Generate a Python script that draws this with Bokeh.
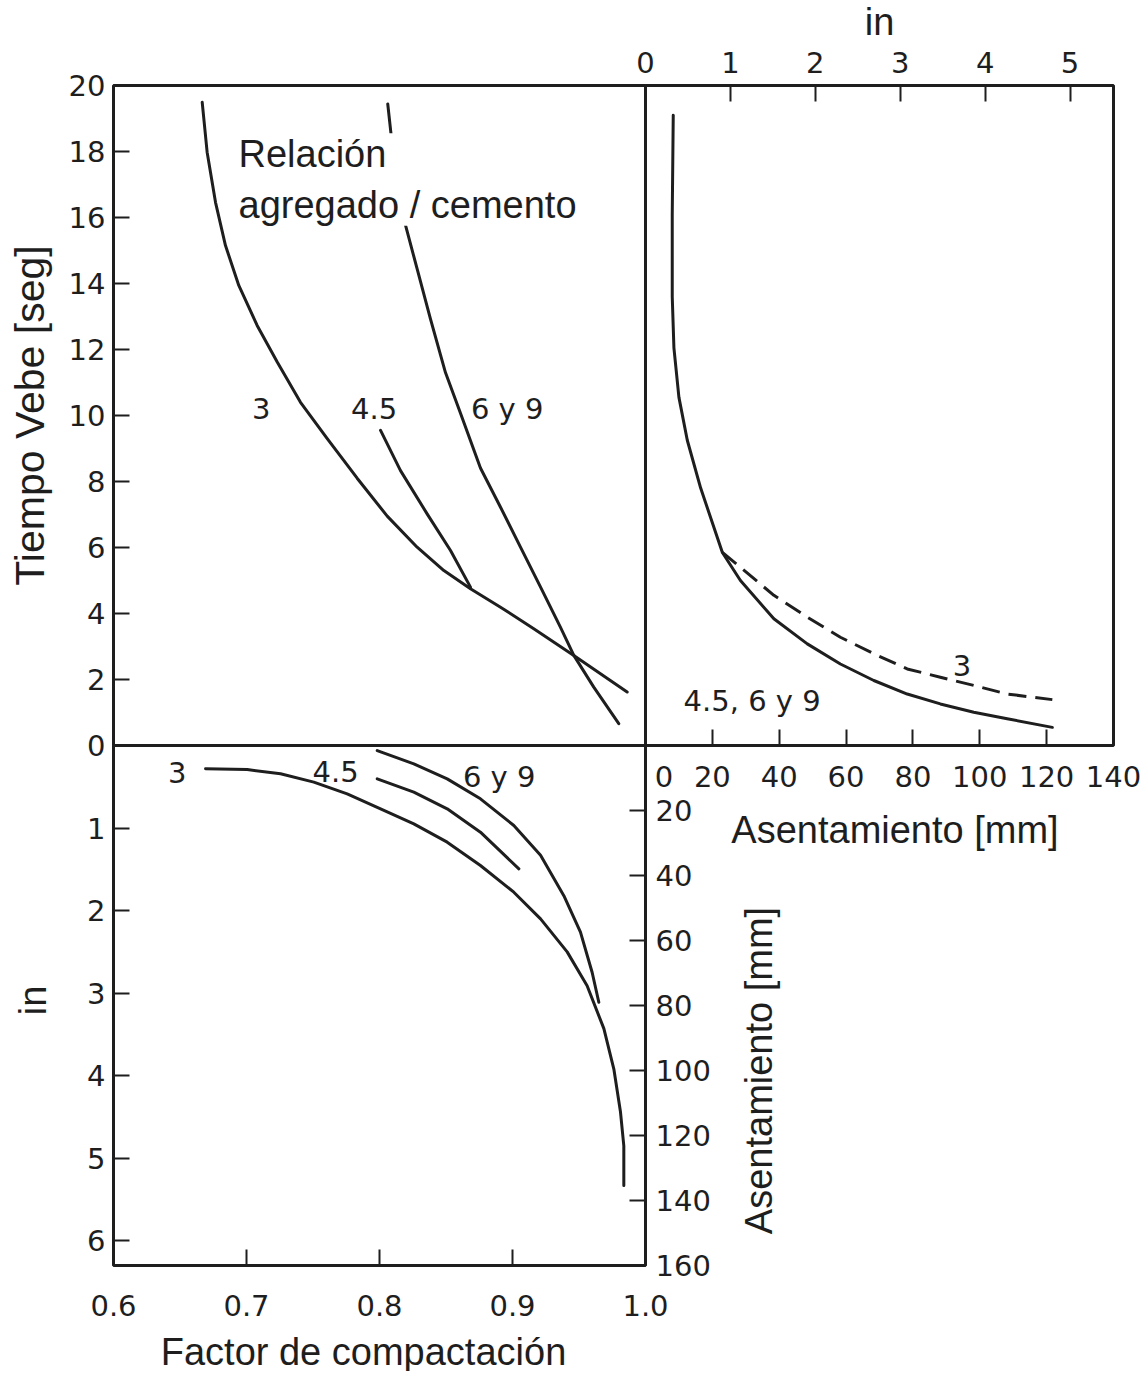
import math
from bokeh.plotting import figure
from bokeh.models import (Range1d, LinearAxis, FixedTicker, BoxAnnotation, Label,
                          ColumnDataSource, PrintfTickFormatter)
from bokeh.core.properties import value
from bokeh.embed import file_html
from bokeh.resources import INLINE

# ---------------- data ----------------
# Top-left panel: Vebe time [s] vs compacting factor, per aggregate/cement ratio
tl_cf_3 = [0.6667, 0.6704, 0.6767, 0.6842, 0.6942, 0.7080, 0.7231, 0.7406, 0.7607, 0.7832,
           0.8058, 0.8283, 0.8484, 0.8684, 0.8910, 0.9160, 0.9461, 0.9862]
tl_vebe_3 = [19.49, 17.98, 16.46, 15.15, 13.94, 12.73, 11.62, 10.40, 9.30, 8.10,
             6.95, 6.01, 5.30, 4.75, 4.19, 3.54, 2.73, 1.62]
tl_cf_45 = [0.8008, 0.8158, 0.8358, 0.8534, 0.8684]
tl_vebe_45 = [9.55, 8.33, 7.02, 5.91, 4.80]
tl_cf_69 = [0.8062, 0.8088, 0.8183, 0.8283, 0.8383, 0.8496, 0.8609, 0.8759, 0.8910, 0.9060,
            0.9211, 0.9361, 0.9461, 0.9611, 0.9799]
tl_vebe_69 = [19.44, 18.48, 15.96, 14.44, 12.93, 11.30, 10.07, 8.41, 7.22, 6.01,
              4.80, 3.58, 2.73, 1.77, 0.66]

# Top-right panel: Vebe time [s] vs slump [mm]
tr_mm_solid = [8.3, 8.0, 8.0, 8.5, 10.0, 12.5, 16.5, 23.0, 28.4, 38.4, 48.4, 58.3, 68.3,
               78.3, 88.2, 98.2, 108.2, 121.7]
tr_vebe_solid = [19.1, 16.1, 13.6, 12.05, 10.55, 9.25, 7.8, 5.85, 5.0, 3.84, 3.08, 2.47, 1.97,
                 1.56, 1.26, 1.01, 0.81, 0.55]
tr_mm_dash = [23.0, 28.4, 38.4, 48.4, 58.3, 68.3, 78.3, 88.2, 98.2, 108.2, 121.7]
tr_vebe_dash = [5.85, 5.40, 4.55, 3.89, 3.28, 2.78, 2.32, 2.07, 1.82, 1.56, 1.39]

# Bottom-left panel: slump [in] vs compacting factor
bl_cf_3 = [0.6692, 0.7005, 0.7256, 0.7506, 0.7757, 0.8008, 0.8258, 0.8509, 0.8759, 0.9010,
           0.9211, 0.9411, 0.9561, 0.9687, 0.9762, 0.9812, 0.9837, 0.9837]
bl_in_3 = [0.282, 0.291, 0.343, 0.444, 0.585, 0.767, 0.949, 1.171, 1.454, 1.777,
           2.10, 2.50, 2.91, 3.43, 3.92, 4.44, 4.85, 5.33]
bl_cf_45 = [0.7983, 0.8258, 0.8509, 0.8759, 0.9048]
bl_in_45 = [0.404, 0.565, 0.767, 1.05, 1.494]
bl_cf_69 = [0.7983, 0.8258, 0.8509, 0.8759, 0.9010, 0.9211, 0.9386, 0.9511, 0.9599, 0.9649]
bl_in_69 = [0.061, 0.222, 0.404, 0.646, 0.969, 1.33, 1.82, 2.26, 2.75, 3.11]

# curve labels
tl_lbl_text = ["3", "4.5", "6 y 9"]
tl_lbl_cf = [0.711, 0.796, 0.896]
tl_lbl_vebe = [10.2, 10.2, 10.2]
tr_lbl_text = ["3", "4.5, 6 y 9"]
tr_lbl_mm = [94.7, 31.9]
tr_lbl_vebe = [2.42, 1.36]
bl_lbl_text = ["3", "4.5", "6 y 9"]
bl_lbl_cf = [0.648, 0.767, 0.890]
bl_lbl_in = [0.33, 0.32, 0.38]

# ticks
vebe_ticks = [0, 2, 4, 6, 8, 10, 12, 14, 16, 18, 20]
cf_ticks = [0.6, 0.7, 0.8, 0.9, 1.0]
tr_mm_ticks = [0, 20, 40, 60, 80, 100, 120, 140]
tr_in_ticks = [0, 1, 2, 3, 4, 5]
bl_in_ticks = [1, 2, 3, 4, 5, 6]
bl_mm_ticks = [20, 40, 60, 80, 100, 120, 140, 160]

# ---------------- layout (canvas pixels) ----------------
CANVAS_W, CANVAS_H = 1144, 1371
PANEL_X0, PANEL_Y0 = 113, 85        # top-left corner of the top-left panel
LEFT_W, TOP_H = 532, 660            # width of left panels, height of top panels
RIGHT_W, BOTTOM_H = 468, 520        # width of top-right panel, height of bottom-left panel
CF_MIN, CF_MAX = 0.6, 1.0
VEBE_MAX = 20
TR_MM_MAX = 140
BL_MM_MAX = 160
MM_PER_IN = 25.4

INK = "#1e1e1e"
TICK_FONT = "DejaVu Sans"
LABEL_FONT = "Liberation Sans"
TICK_SIZE = "29px"
LABEL_SIZE = "38px"

cf_px = LEFT_W / (CF_MAX - CF_MIN)
vebe_px = TOP_H / VEBE_MAX
tr_px = RIGHT_W / TR_MM_MAX
bl_px = BOTTOM_H / BL_MM_MAX

cf_start = CF_MIN - PANEL_X0 / cf_px
x_cf = Range1d(cf_start, cf_start + CANVAS_W / cf_px)
vebe_top = VEBE_MAX + PANEL_Y0 / vebe_px
y_vebe = Range1d(vebe_top - CANVAS_H / vebe_px, vebe_top)
mm_start = -(PANEL_X0 + LEFT_W) / tr_px
x_mm = Range1d(mm_start, mm_start + CANVAS_W / tr_px)
x_in = Range1d(x_mm.start / MM_PER_IN, x_mm.end / MM_PER_IN)
bmm_top = -(PANEL_Y0 + TOP_H) / bl_px
y_bmm = Range1d(bmm_top + CANVAS_H / bl_px, bmm_top)
y_bin = Range1d(y_bmm.start / MM_PER_IN, y_bmm.end / MM_PER_IN)

p = figure(frame_width=CANVAS_W, frame_height=CANVAS_H, x_range=x_cf, y_range=y_vebe,
           x_axis_location=None, y_axis_location=None,
           output_backend="svg", toolbar_location=None,
           min_border=0, min_border_left=0, min_border_right=0, min_border_top=0, min_border_bottom=0,
           outline_line_color=None, background_fill_color="white", border_fill_color="white")
p.extra_x_ranges = {"mm": x_mm, "tin": x_in}
p.extra_y_ranges = {"bmm": y_bmm, "bin": y_bin}
p.grid.visible = False


def make_axis(ticks, bounds, label, **kw):
    ax = LinearAxis(ticker=FixedTicker(ticks=ticks), bounds=bounds, axis_label=label, **kw)
    ax.major_tick_in = 16
    ax.major_tick_out = 0
    ax.minor_tick_in = 0
    ax.minor_tick_out = 0
    ax.axis_line_color = None
    ax.major_tick_line_width = 2
    ax.major_tick_line_color = INK
    ax.major_label_text_font = TICK_FONT
    ax.major_label_text_font_size = TICK_SIZE
    ax.major_label_text_color = INK
    ax.axis_label_text_font = LABEL_FONT
    ax.axis_label_text_font_size = LABEL_SIZE
    ax.axis_label_text_font_style = "normal"
    ax.axis_label_text_color = INK
    return ax


# Vebe time axis (left edge of top panels)
ax_vebe = make_axis(vebe_ticks, (0, VEBE_MAX), "Tiempo Vebe [seg]", fixed_location=CF_MIN,
                    major_label_standoff=8, axis_label_standoff=13)
ax_vebe.axis_label_text_font_size = "41px"
p.add_layout(ax_vebe, "left")

# slump in inches (left edge of bottom-left panel)
ax_bl_in = make_axis(bl_in_ticks, (0, 6.18), "in", y_range_name="bin", fixed_location=CF_MIN,
                     major_label_standoff=8, axis_label_standoff=30)
p.add_layout(ax_bl_in, "left")

# compacting factor (bottom of bottom-left panel)
ax_cf = make_axis(cf_ticks, (0.576, CF_MAX), "Factor de compactación", y_range_name="bmm",
                  fixed_location=BL_MM_MAX, major_label_standoff=29, axis_label_standoff=12)
ax_cf.formatter = PrintfTickFormatter(format="%.1f")
p.add_layout(ax_cf, "below")

# slump mm (bottom of top-right panel)
ax_tr_mm = make_axis(tr_mm_ticks, (0, 160), "Asentamiento [mm]", x_range_name="mm",
                     fixed_location=0, major_label_standoff=14, axis_label_standoff=12,
                     major_label_overrides={0: "\u2007\u20070"})
p.add_layout(ax_tr_mm, "below")

# slump in inches (top of top-right panel)
ax_tr_in = make_axis(tr_in_ticks, (0, TR_MM_MAX / MM_PER_IN), "in", x_range_name="tin",
                     fixed_location=VEBE_MAX, major_label_standoff=13, axis_label_standoff=6)
p.add_layout(ax_tr_in, "above")

# slump mm (right edge of bottom-left panel); its title is drawn as a rotated label below
ax_bl_mm = make_axis(bl_mm_ticks, (0, BL_MM_MAX), None, y_range_name="bmm",
                     fixed_location=CF_MAX, major_label_standoff=10)
p.add_layout(ax_bl_mm, "right")
p.add_layout(Label(x=1.085, y=100, y_range_name="bmm", text="Asentamiento [mm]",
                   angle=math.pi / 2, text_font=LABEL_FONT, text_font_size=LABEL_SIZE,
                   text_color=INK, text_align="center", text_baseline="middle"))

# panel borders
box_kw = dict(fill_alpha=0, line_color=INK, line_width=3, line_alpha=1)
p.add_layout(BoxAnnotation(left=CF_MIN, right=CF_MAX, bottom=0, top=VEBE_MAX, **box_kw))
p.add_layout(BoxAnnotation(left=0, right=TR_MM_MAX, bottom=0, top=VEBE_MAX, x_range_name="mm", **box_kw))
p.add_layout(BoxAnnotation(left=CF_MIN, right=CF_MAX, bottom=BL_MM_MAX, top=0, y_range_name="bmm", **box_kw))

# curves
lw = dict(line_width=3, line_color=INK, line_join="round", line_cap="round")
p.line(tl_cf_3, tl_vebe_3, **lw)
p.line(tl_cf_45, tl_vebe_45, **lw)
p.line(tl_cf_69, tl_vebe_69, **lw)
p.line(tr_mm_solid, tr_vebe_solid, x_range_name="mm", **lw)
p.line(tr_mm_dash, tr_vebe_dash, x_range_name="mm", line_width=3, line_color=INK, line_dash="18 9")
p.line(bl_cf_3, bl_in_3, y_range_name="bin", **lw)
p.line(bl_cf_45, bl_in_45, y_range_name="bin", **lw)
p.line(bl_cf_69, bl_in_69, y_range_name="bin", **lw)

# curve labels
txt = dict(text_font=value(TICK_FONT), text_font_size=TICK_SIZE, text_color=INK,
           text_align="center", text_baseline="middle")
p.text(x="x", y="y", text="t", source=ColumnDataSource(dict(x=tl_lbl_cf, y=tl_lbl_vebe, t=tl_lbl_text)), **txt)
p.text(x="x", y="y", text="t", x_range_name="mm",
       source=ColumnDataSource(dict(x=tr_lbl_mm, y=tr_lbl_vebe, t=tr_lbl_text)), **txt)
p.text(x="x", y="y", text="t", y_range_name="bin",
       source=ColumnDataSource(dict(x=bl_lbl_cf, y=bl_lbl_in, t=bl_lbl_text)), **txt)

p.add_layout(Label(x=0.694, y=18.55, text="Relación\nagregado / cemento",
                   text_font=LABEL_FONT, text_font_size=LABEL_SIZE, text_color=INK,
                   text_align="left", text_baseline="top", text_line_height=1.2,
                   background_fill_color="white"))

open("out.html", "w").write(file_html(p, INLINE))
